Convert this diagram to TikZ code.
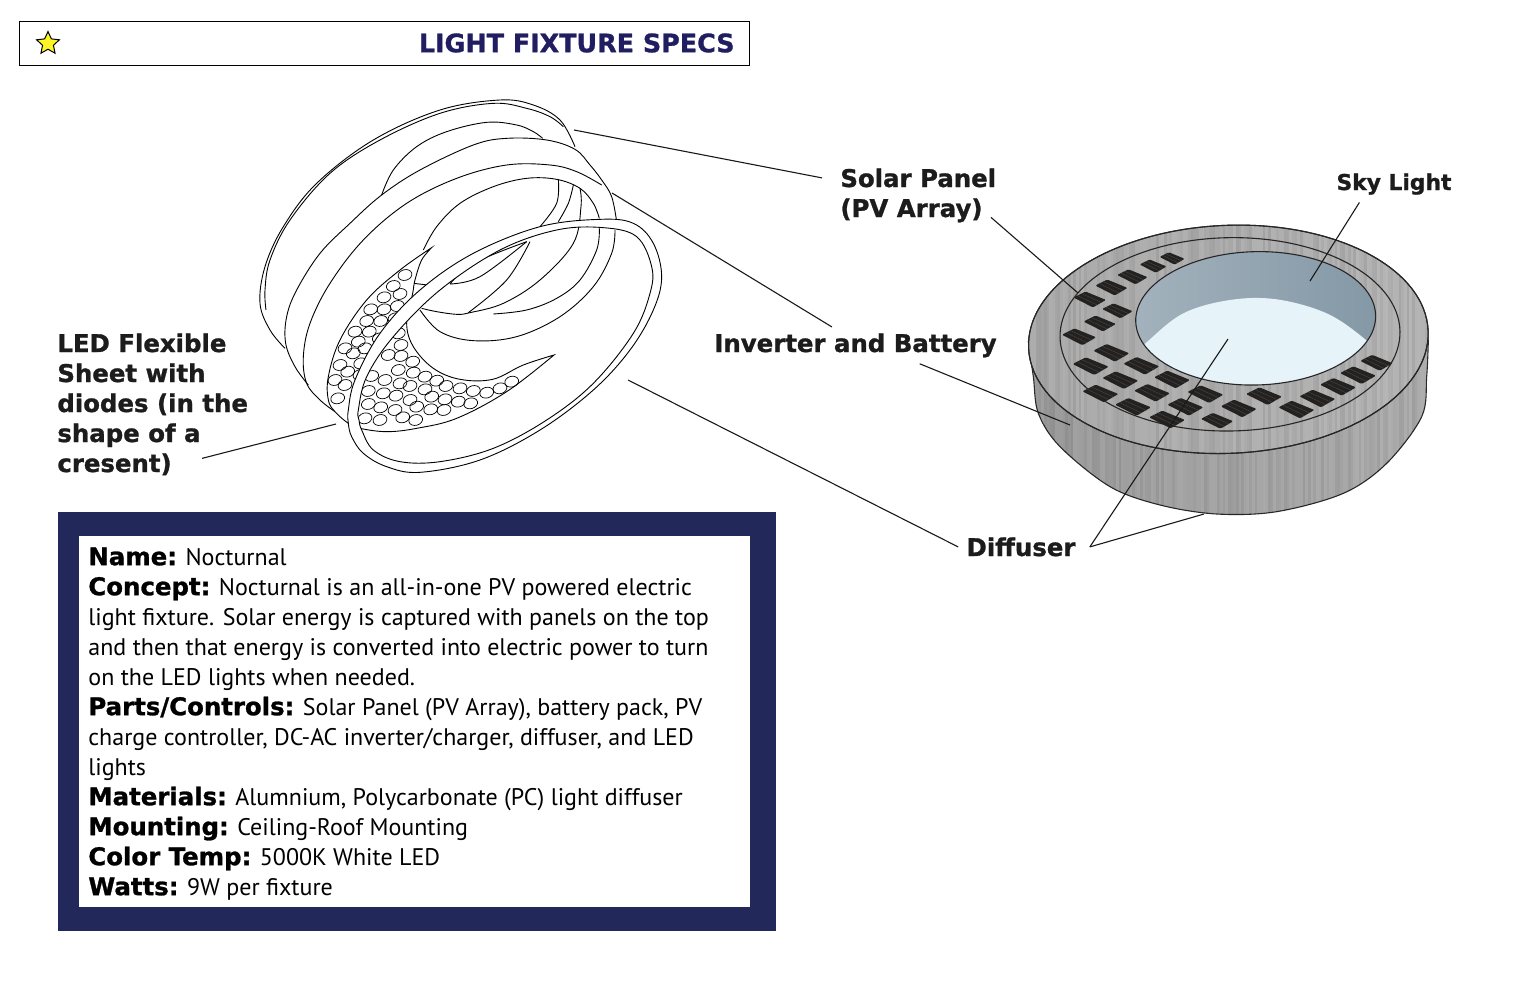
\documentclass[tikz,border=0pt]{standalone}
\usepackage{fontspec}
\setmainfont{PT Sans}
\newfontfamily\heavyfont{DejaVu Sans Bold}[FakeBold=1.1]
\usetikzlibrary{shapes.geometric}
\definecolor{SpecNavy}{RGB}{35,40,90}
\definecolor{TitleNavy}{RGB}{32,30,96}
\definecolor{LabelInk}{RGB}{28,28,28}
\definecolor{SkyGrey}{RGB}{132,152,166}
\definecolor{DiffuserBlue}{RGB}{230,243,248}
\definecolor{CellDark}{RGB}{36,34,32}
\newcommand{\spechead}[1]{{\heavyfont\fontsize{12.2}{15}\selectfont #1}}
\newcommand{\alustreaks}{%
  \foreach \sx in {50,58,...,1260} {
    \pgfmathsetmacro{\sop}{.01+.06*rnd}
    \pgfmathsetmacro{\shade}{rnd<.5 ? 100 : 0}
    \draw[black!\shade, opacity=\sop, line width=1.4pt] (\sx,20) -- (\sx,930);
  }}
\tikzset{
  coil/.style={line width=.45pt, draw=black},
  callout/.style={font=\heavyfont\fontsize{12.2}{15}\selectfont, text=LabelInk, inner xsep=4pt, inner ysep=2pt, minimum height=18pt},
  leader/.style={line width=.55pt, draw=black!90},
  led/.style={coil, line width=.35pt},
  solarcell/.style={fill=CellDark, rounded corners=.6pt},
  rimline/.style={draw=black!85, line width=.55pt}
}
\begin{document}
\begin{tikzpicture}[x=.5pt, y=-.5pt]
  \useasboundingbox (0,0) rectangle (1530,990);

  % title bar
  \node[draw=black, line width=.5pt, minimum width=365pt, minimum height=22pt, inner sep=0pt] (titlebar) at (384.5,43.5) {};
  \node[star, star points=5, star point ratio=2.1, draw=black, fill=yellow!85!white, line width=.5pt, minimum size=12pt, inner sep=0pt] (titlestar) at (48,43.5) {};
  \node[font=\heavyfont\fontsize{12.7}{15}\selectfont, text=TitleNavy, anchor=east, inner sep=0pt] (titletext) at (735,43) {LIGHT FIXTURE SPECS};

  % spec sheet
  \node[fill=SpecNavy, minimum width=359pt, minimum height=209.5pt, inner sep=0pt] (specframe) at (417,721.5) {};
  \node[fill=white, minimum width=335.5pt, minimum height=185.5pt, inner sep=0pt] (specpanel) at (414.5,721.5) {};
  \node[anchor=north west, align=left, inner sep=0pt, font=\fontsize{12}{15}\selectfont] (spectext) at (88,547) {%
    \spechead{Name:} Nocturnal\\
    \spechead{Concept:} Nocturnal is an all-in-one PV powered electric\\
    light fixture. Solar energy is captured with panels on the top\\
    and then that energy is converted into electric power to turn\\
    on the LED lights when needed.\\
    \spechead{Parts/Controls:} Solar Panel (PV Array), battery pack, PV\\
    charge controller, DC-AC inverter/charger, diffuser, and LED\\
    lights\\
    \spechead{Materials:} Alumnium, Polycarbonate (PC) light diffuser\\
    \spechead{Mounting:} Ceiling-Roof Mounting\\
    \spechead{Color Temp:} 5000K White LED\\
    \spechead{Watts:} 9W per fixture};

  % LED fixture, traced in 3x crop units
  \begin{scope}[shift={(240,90)}, scale=1/3]
    \draw[coil] plot[smooth, tension=.6] coordinates {(135,775) (90,720) (60,640) (75,530) (130,410) (230,280) (400,150) (600,60) (780,30) (880,45) (960,90) (1005,170)};
    \draw[coil] plot[smooth, tension=.6] coordinates {(78,660) (75,600) (90,510) (150,390) (270,250) (420,150) (600,70) (760,40) (860,55) (930,80) (970,110)};
    \draw[coil] plot[smooth, tension=.6] coordinates {(425,315) (460,240) (530,170) (620,125) (740,97) (830,105) (880,125) (908,145)};
    \draw[coil] plot[smooth, tension=.6] coordinates {(205,885) (165,830) (137,760) (140,680) (170,600) (240,490) (330,400) (425,315) (540,240) (700,165) (800,145) (920,150) (1005,178) (1050,225) (1085,270) (1115,320) (1130,395)};
    \draw[coil] plot[smooth, tension=.6] coordinates {(285,965) (240,930) (200,880) (190,800) (210,700) (270,580) (370,450) (500,340) (650,265) (800,225) (930,225) (1010,245) (1085,285)};
    \draw[coil] plot[smooth, tension=.6] coordinates {(550,480) (590,410) (660,340) (760,290) (860,265) (950,268) (1020,295) (1060,340) (1078,385)};
    \draw[coil] plot[smooth, tension=.6] coordinates {(1125,420) (1115,490) (1060,590) (960,680) (830,740) (700,752) (600,725) (540,660)};
    \draw[coil] plot[smooth, tension=.6] coordinates {(1078,415) (1070,480) (1020,570) (950,625) (860,660) (760,672)};
    \draw[coil] plot[smooth, tension=.6] coordinates {(545,655) (590,665) (650,673) (690,668) (790,640) (900,570) (1000,460) (1023,350) (1020,295)};
    \draw[coil] plot[smooth, tension=.6] coordinates {(955,268) (950,340) (900,410)};
    \draw[coil] plot[smooth, tension=.6] coordinates {(1000,285) (985,340) (955,395)};
    \draw[coil] plot[smooth, tension=.6] coordinates {(685,668) (800,570) (870,455)};
    \draw[coil] plot[smooth, tension=.6] coordinates {(630,582) (720,560) (860,455)};
    \draw[coil] plot[smooth, tension=.6] coordinates {(630,582) (700,520) (860,455)};
    \draw[coil] (520,580) -- (580,587);
    \draw[coil, fill=white] plot[smooth, tension=.6] coordinates {(575,473) (480,540) (380,630) (300,750) (265,860) (265,930) (285,965) (325,1000) (360,1015) (440,1025) (530,1015) (650,985) (800,905) (942,795)}
      -- plot[smooth, tension=.6] coordinates {(942,795) (850,825) (758,868) (660,868) (580,835) (520,770) (500,700) (518,610) (525,570) (545,510) (575,473)} -- cycle;
    \foreach \dx/\dy in {495/555,460/588,480/612,432/622,472/648,432/658,392/658,465/685,422/693,380/693,345/725,388/725,355/755,475/730,418/745,375/775,315/775,362/820,300/825,340/790,323/845,285/870,315/885,293/925,360/855,483/765,445/795,483/798,518/815,475/840,520/848,395/858,435/870,480/880,555/860,590/872,618/888,660/895,700/903,740/908,780/895,815/875,510/888,555/898,385/903,430/910,468/917,510/930,575/920,615/928,655/935,692/940,385/942,422/952,465/960,530/950,572/958,612/960,375/985,420/990,488/982,527/990}
      \draw[led, shift={(\dx,\dy)}, rotate=15] (0,0) ellipse [x radius=21, y radius=16];
    \draw[coil, fill=white, even odd rule] plot[smooth cycle, tension=.6] coordinates {(325,1000) (325,960) (345,870) (420,730) (540,600) (700,490) (900,410) (1080,388) (1180,400) (1240,460) (1265,560) (1240,660) (1170,780) (1060,900) (900,1020) (720,1110) (540,1147) (440,1130) (370,1090) (335,1040)}
      plot[smooth cycle, tension=.6] coordinates {(357,990) (355,960) (380,860) (460,740) (600,600) (780,480) (950,420) (1090,413) (1190,440) (1235,530) (1230,610) (1180,730) (1060,880) (920,990) (760,1075) (600,1115) (480,1115) (400,1080) (365,1020)};
  \end{scope}

  % rendered fixture, traced in 3x crop units
  \begin{scope}[shift={(1010,210)}, scale=1/3]
    \pgfmathsetseed{41}
    \shade[left color=black!40, middle color=black!32, right color=black!33, rimline] plot[smooth, tension=.55] coordinates {(55,395) (70,500) (85,610) (150,710) (300,830) (450,885) (620,912) (800,905) (1000,850) (1130,760) (1235,620) (1250,500) (1255,390)} -- cycle;
    \begin{scope}
      \clip plot[smooth, tension=.55] coordinates {(55,395) (70,500) (85,610) (150,710) (300,830) (450,885) (620,912) (800,905) (1000,850) (1130,760) (1235,620) (1250,500) (1255,390)} -- cycle;
      \alustreaks
    \end{scope}
    \shade[left color=black!34, middle color=black!28, right color=black!30, rimline, rotate around={2.5:(655,388)}] (655,388) ellipse [x radius=600, y radius=342];
    \begin{scope}
      \clip[rotate around={2.5:(655,388)}] (655,388) ellipse [x radius=600, y radius=342];
      \alustreaks
    \end{scope}
    \draw[rimline, rotate around={2.5:(655,388)}] (655,388) ellipse [x radius=600, y radius=342];
    \draw[rimline, rotate around={1:(660,373)}] (660,373) ellipse [x radius=510, y radius=290];
    \begin{scope}
      \clip[rotate around={1.5:(737,325)}] (737,325) ellipse [x radius=360, y radius=200];
      \shade[left color=SkyGrey!75!white, right color=SkyGrey, rotate around={1.5:(737,325)}] (737,325) ellipse [x radius=360, y radius=200];
      \fill[DiffuserBlue] plot[smooth, tension=.6] coordinates {(380,430) (412,395) (520,310) (660,270) (800,268) (950,310) (1062,385) (1100,430)} -- (1100,560) -- (380,560) -- cycle;
    \end{scope}
    \draw[rimline, rotate around={1.5:(737,325)}] (737,325) ellipse [x radius=360, y radius=200];
    \foreach \cx/\cy/\cs in {487/145/.7,430/168/.75,368/200/.85,305/232/.9,240/268/.9,323/302/.85,270/340/.9,208/380/.95,305/428/1,243/468/1,395/467/1,332/510/1,487/508/1,272/550/1,427/548/1,587/552/1,370/590/1,527/590/1,763/558/1,687/595/1,472/628/1,622/632/.9,860/598/1,923/565/1,985/530/1,1045/495/1,1100/458/.9} {
      \fill[solarcell, shift={(\cx,\cy)}, scale=\cs] (-55,-6) -- (-15,-26) -- (53,2) -- (10,27) -- cycle;
      \draw[black!72, line width=.2pt, shift={(\cx,\cy)}, scale=\cs] (-42,-13) -- (24,19) (-28,-19) -- (39,11);
    }
  \end{scope}

  % callouts
  \foreach \i/\ledline in {1/LED Flexible,2/Sheet with,3/diodes (in the,4/shape of a,5/cresent)}
    \node[callout, anchor=base west, inner xsep=0pt] (ledlabel\i) at (57,322+30*\i) {\ledline};
  \node[callout, anchor=base west] (solarlabel) at (832,187) {Solar Panel};
  \node[callout, anchor=base west] (pvlabel) at (832,217) {(PV Array)};
  \node[callout, anchor=base] (inverterlabel) at (855.5,352) {Inverter and Battery};
  \node[callout, anchor=base, font=\heavyfont\fontsize{10.9}{13}\selectfont] (skylabel) at (1394,190) {Sky Light};
  \node[callout, anchor=base] (diffuserlabel) at (1021,556) {Diffuser};

  \coordinate (coilrim) at (574,130);
  \coordinate (coilbody) at (612,193);
  \coordinate (coilband) at (628,380);
  \coordinate (coilsheet) at (336,424);
  \coordinate (skyspot) at (1310,281);
  \coordinate (cellspot) at (1078,293);
  \coordinate (sidespot) at (1070,425);
  \coordinate (lightspot) at (1228,339);
  \coordinate (basespot) at (1204,514);

  \draw[leader] (coilrim) -- ([xshift=-5pt]solarlabel.west);
  \draw[leader] (coilbody) -- (inverterlabel.142);
  \draw[leader] (coilband) -- (diffuserlabel.west);
  \draw[leader] (coilsheet) -- ([xshift=15pt, yshift=3pt]ledlabel5.east);
  \draw[leader] (pvlabel.-5) -- (cellspot);
  \draw[leader] (inverterlabel.-16) -- (sidespot);
  \draw[leader] (skylabel.208) -- (skyspot);
  \draw[leader] ([xshift=3pt]diffuserlabel.east) -- (lightspot);
  \draw[leader] ([xshift=3pt]diffuserlabel.east) -- (basespot);
\end{tikzpicture}
\end{document}
